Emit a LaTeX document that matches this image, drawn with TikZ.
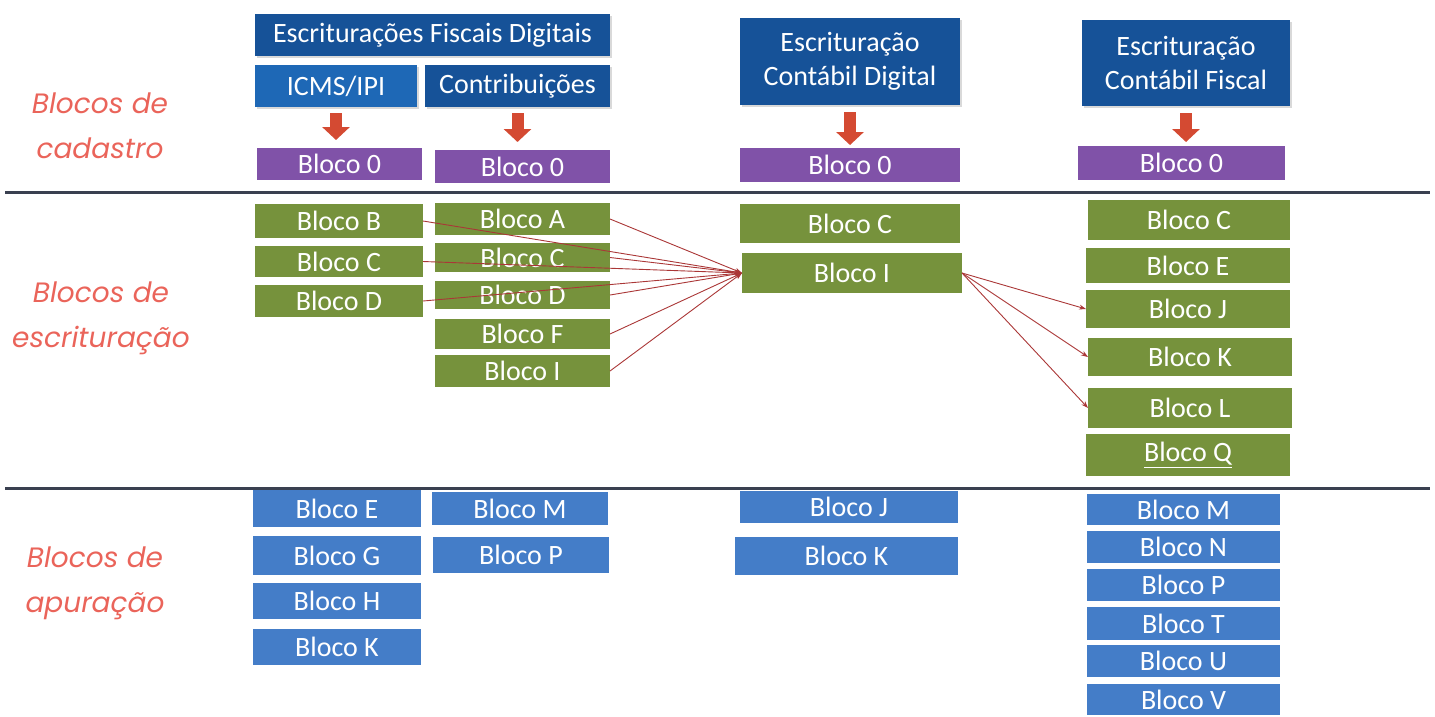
\documentclass[tikz,border=0pt]{standalone}
\usepackage{fontspec}
\setmainfont{Carlito}
\newfontfamily\labelfont{Poppins}
\usetikzlibrary{arrows.meta,shadows}

\definecolor{hdrblue}{RGB}{22,82,152}
\definecolor{icmsblue}{RGB}{30,104,182}
\definecolor{cadpurple}{RGB}{128,82,168}
\definecolor{escgreen}{RGB}{118,146,60}
\definecolor{apublue}{RGB}{68,125,200}
\definecolor{setared}{RGB}{212,74,50}
\definecolor{ligared}{RGB}{170,55,55}
\definecolor{rotulored}{RGB}{234,100,90}
\definecolor{sepgray}{RGB}{58,64,80}

\begin{document}
\begin{tikzpicture}[x=1pt,y=-1pt,inner sep=0pt,outer sep=0pt,
	box/.style 2 args={minimum width=#1pt, minimum height=#2pt},
	hdr/.style={fill=hdrblue, text=white, align=center, font=\fontsize{28}{34}\selectfont,
		drop shadow={opacity=0.3, shadow xshift=2pt, shadow yshift=-2pt}},
	cad/.style={fill=cadpurple, text=white, font=\fontsize{28}{30}\selectfont},
	esc/.style={fill=escgreen, text=white, font=\fontsize{28}{30}\selectfont},
	apu/.style={fill=apublue, text=white, font=\fontsize{28}{30}\selectfont},
	seta/.style={draw=setared, line width=12pt, -{Triangle[width=27pt,length=13pt]}},
	liga/.style={draw=ligared, line width=0.9pt, -{Stealth[length=7pt,width=5pt]}},
	sep/.style={draw=sepgray, line width=3pt},
	rotulo/.style={text=rotulored, align=center, font=\labelfont\itshape\fontsize{28}{45}\selectfont}]
	\useasboundingbox (0,0) rectangle (1435,716);

	% cabecalhos
	\node[hdr, box={355}{42}] (efd) at (432.5,35) {Escriturações Fiscais Digitais};
	\node[hdr, fill=icmsblue, box={162}{42}] (icms) at (336,86) {ICMS/IPI};
	\node[hdr, box={185}{42}] (contr) at (517.5,86) {Contribuições};
	\node[hdr, box={220}{87}] (ecd) at (850,61.5) {Escrituração\\Contábil Digital};
	\node[hdr, box={208}{86}] (ecf) at (1186,63) {Escrituração\\Contábil Fiscal};

	% blocos de cadastro
	\node[cad, box={165}{32}] (ic0) at (339.5,164) {Bloco 0};
	\node[cad, box={175}{33}] (ct0) at (522.5,166.5) {Bloco 0};
	\node[cad, box={220}{34}] (cd0) at (850,165) {Bloco 0};
	\node[cad, box={207}{34}] (cf0) at (1181.5,163) {Bloco 0};

	\draw[seta, shorten <=6pt, shorten >=8pt] (icms.south) -- (icms.south |- ic0.north);
	\draw[seta, shorten <=6pt, shorten >=8pt] (contr.south) -- (contr.south |- ct0.north);
	\draw[seta, shorten <=7pt, shorten >=3pt] (ecd.south) -- (ecd.south |- cd0.north);
	\draw[seta, shorten <=7pt, shorten >=4pt] (ecf.south) -- (ecf.south |- cf0.north);

	% blocos de escrituracao
	\node[esc, box={168}{34}] (icB) at (339,221) {Bloco B};
	\node[esc, box={168}{31}] (icC) at (339,261.5) {Bloco C};
	\node[esc, box={168}{32}] (icD) at (339,301) {Bloco D};
	\node[esc, box={175}{32}] (ctA) at (522.5,219) {Bloco A};
	\node[esc, box={175}{29}] (ctC) at (522.5,257.5) {Bloco C};
	\node[esc, box={175}{28}] (ctD) at (522.5,295) {Bloco D};
	\node[esc, box={175}{30}] (ctF) at (522.5,334) {Bloco F};
	\node[esc, box={175}{32}] (ctI) at (522.5,371) {Bloco I};
	\node[esc, box={220}{39}] (cdC) at (850,223.5) {Bloco C};
	\node[esc, box={220}{40}] (cdI) at (852,273) {Bloco I};
	\node[esc, box={202}{40}] (cfC) at (1189,220) {Bloco C};
	\node[esc, box={204}{35}] (cfE) at (1188,265.5) {Bloco E};
	\node[esc, box={204}{38}] (cfJ) at (1188,309) {Bloco J};
	\node[esc, box={204}{38}] (cfK) at (1190,357) {Bloco K};
	\node[esc, box={204}{40}] (cfL) at (1190,408) {Bloco L};
	\node[esc, box={204}{42}] (cfQ) at (1188,455) {\underline{Bloco Q}};

	\foreach \n in {icB,icC,icD,ctA,ctC,ctD,ctF,ctI}
		\draw[liga] (\n.east) -- (cdI.west);
	\foreach \n in {cfJ,cfK,cfL}
		\draw[liga] (cdI.east) -- (\n.west);

	% blocos de apuracao
	\node[apu, box={168}{37}] (icE) at (337,508.5) {Bloco E};
	\node[apu, box={168}{39}] (icG) at (337,555.5) {Bloco G};
	\node[apu, box={168}{36}] (icH) at (337,601) {Bloco H};
	\node[apu, box={168}{36}] (icK) at (337,647) {Bloco K};
	\node[apu, box={176}{33}] (ctM) at (520,508.5) {Bloco M};
	\node[apu, box={176}{36}] (ctP) at (521,555) {Bloco P};
	\node[apu, box={218}{32}] (cdJ) at (849,507) {Bloco J};
	\node[apu, box={223}{38}] (cdK) at (846.5,556) {Bloco K};
	\node[apu, box={193}{31}] (cfM) at (1183.5,509.5) {Bloco M};
	\node[apu, box={193}{32}] (cfN) at (1183.5,547) {Bloco N};
	\node[apu, box={193}{32}] (cfP) at (1183.5,585) {Bloco P};
	\node[apu, box={193}{33}] (cfT) at (1183.5,623.5) {Bloco T};
	\node[apu, box={193}{32}] (cfU) at (1183.5,661) {Bloco U};
	\node[apu, box={193}{31}] (cfV) at (1183.5,699.5) {Bloco V};

	% separadores e rotulos
	\draw[sep] (5,192) -- (1430,192);
	\draw[sep] (5,488) -- (1430,488);
	\node[rotulo] (rcad) at (100,126) {Blocos de\\cadastro};
	\node[rotulo] (resc) at (101,318) {Blocos de\\escrituração};
	\node[rotulo] (rapu) at (95,583) {Blocos de\\apuração};
\end{tikzpicture}
\end{document}
